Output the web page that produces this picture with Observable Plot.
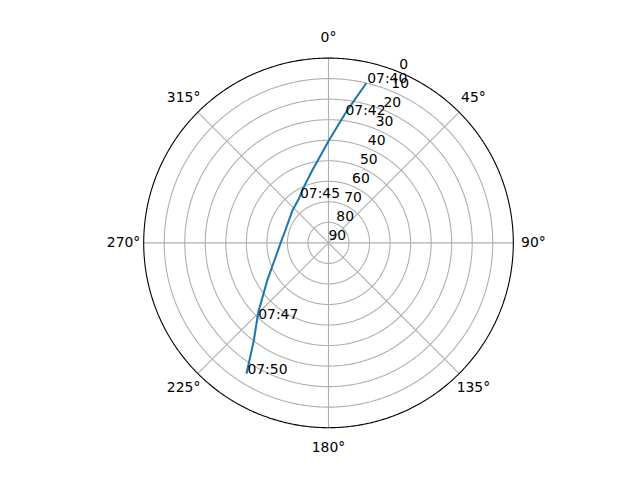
<!DOCTYPE html>
<html>
<head>
<meta charset="utf-8">
<script src="https://cdn.jsdelivr.net/npm/d3@7"></script>
<script src="https://cdn.jsdelivr.net/npm/@observablehq/plot@0.6"></script>
<style>
  html, body { margin: 0; padding: 0; background: white; }
</style>
</head>
<body>
<div id="chart"></div>
<script>
// Satellite pass sky track: azimuth (deg, clockwise from north) and elevation (deg)
const pathAz = [13.3, 8.0, 7.1, 0.2, 352.6, 347.3, 336.1, 326.4, 311.9, 286.0, 269.9, 252.0, 238.5, 225.9, 223.2, 217.4, 212.1];
const pathEl = [10.1, 24.9, 27.1, 40.1, 49.5, 53.9, 60.3, 64.0, 66.4, 68.1, 66.7, 62.3, 55.0, 42.7, 39.3, 30.1, 14.8];

// Time annotations
const labelTimes = ["07:40", "07:42", "07:45", "07:47", "07:50"];
const labelAz = [13.3, 7.1, 326.4, 223.2, 212.1];
const labelEl = [10.1, 27.1, 64.0, 39.3, 14.8];

// Axis ticks
const thetaTicks = [0, 45, 90, 135, 180, 225, 270, 315];
const rTicks = [0, 10, 20, 30, 40, 50, 60, 70, 80, 90];

const pathData = pathAz.map((a, i) => ({az: a, el: pathEl[i]}));
const labelData = labelTimes.map((t, i) => ({t, az: labelAz[i], el: labelEl[i]}));

const R = 184.8;
const projection = d3.geoAzimuthalEquidistant()
  .rotate([180, -90])
  .reflectX(true)
  .scale(R / (Math.PI / 2))
  .translate([328, 242.4]);

const ring = (v) => d3.geoCircle().center([0, 90]).radius(90 - v).precision(0.5)();
const gridRings = rTicks.filter(v => v > 0 && v < 90).map(ring);

const chart = Plot.plot({
  width: 640,
  height: 480,
  projection,
  style: {fontFamily: "DejaVu Sans", fontSize: "13.9px", background: "white", color: "black"},
  marks: [
    Plot.geo(gridRings, {stroke: "#b0b0b0", strokeWidth: 1.1, fill: "none", strokeOpacity: 1}),
    Plot.link(thetaTicks, {x1: d => d, y1: 90, x2: d => d, y2: 0, stroke: "#b0b0b0", strokeWidth: 1.1, strokeOpacity: 1}),
    Plot.geo([ring(0)], {stroke: "black", strokeWidth: 1.1, fill: "none", strokeOpacity: 1}),
    Plot.line(pathData, {x: "az", y: "el", stroke: "#1f77b4", strokeWidth: 2.08, strokeOpacity: 1, strokeLinejoin: "round", strokeLinecap: "butt"}),
    Plot.text(rTicks, {x: () => 22.5, y: d => d, text: d => String(d), textAnchor: "start", lineAnchor: "bottom", dy: -3.3, fontSize: 13.9, fill: "black"}),
    Plot.text(thetaTicks, {x: d => d, y: () => -9.8, text: d => `${d}°`, textAnchor: "middle", lineAnchor: "middle", fontSize: 13.9, fill: "black"}),
    Plot.text(labelData, {x: "az", y: "el", text: "t", textAnchor: "start", lineAnchor: "bottom", dx: 1, fontSize: 13.9, fill: "black"})
  ]
});
document.getElementById("chart").appendChild(chart);
</script>
</body>
</html>
